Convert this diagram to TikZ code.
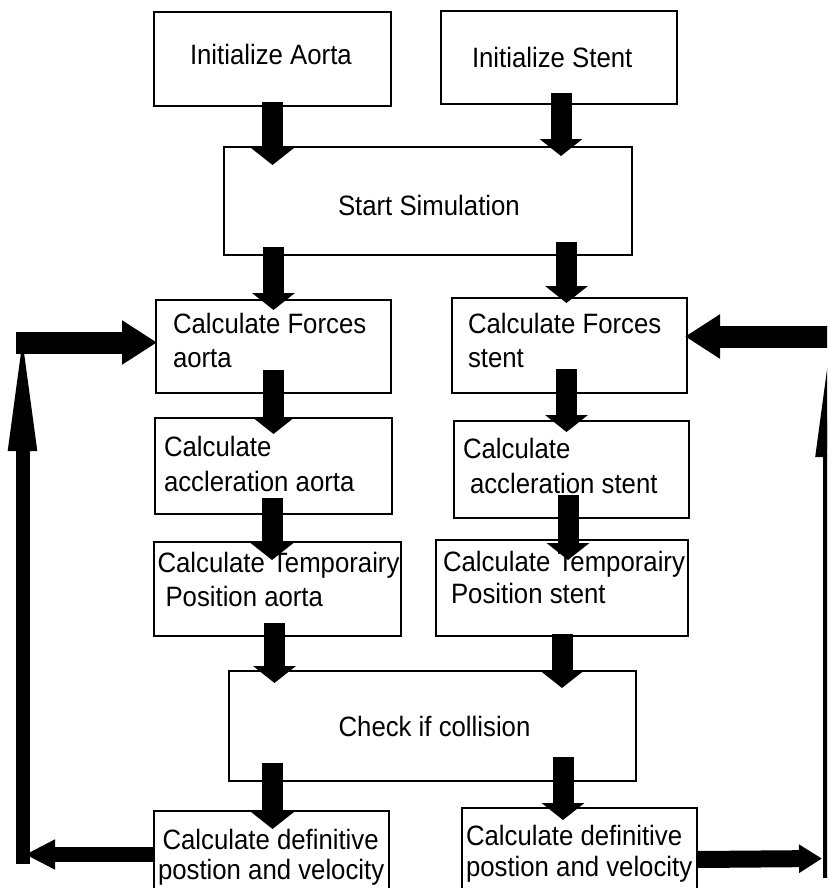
\documentclass[tikz,border=0pt]{standalone}
\usepackage{fontspec}
\setmainfont[FakeStretch=0.92]{Liberation Sans}
\usetikzlibrary{arrows.meta,calc}
\tikzset{
  box/.style={draw=black, line width=2.8pt, fill=white, rectangle, inner sep=0pt, outer sep=0pt},
  lbl/.style={anchor=base west, inner sep=0pt, outer sep=0pt, font=\fontsize{28}{34}\selectfont},
  flow/.style={line width=21pt, -{Triangle[length=17pt,width=42pt]}},
  loopa/.style={line width=15pt, -{Triangle[length=30pt,width=28pt]}},
  loopv/.style={line width=14pt, -{Triangle[length=131pt,width=25pt]}},
  looph/.style={line width=22pt, -{Triangle[length=35pt,width=42pt]}},
  loopr/.style={line width=17pt, -{Triangle[length=23pt,width=27pt]}},
}
\begin{document}
\begin{tikzpicture}[x=1pt,y=-1pt]
\useasboundingbox (0,0) rectangle (827,888);
\clip (0,0) rectangle (827,888);
\fill[white] (0,0) rectangle (827,888);
% boxes
\node[box, minimum width=237pt, minimum height=94pt]  (b1)  at (272.5,59)   {};
\node[box, minimum width=236pt, minimum height=93pt]  (b2)  at (559,57.5)   {};
\node[box, minimum width=408pt, minimum height=108pt] (b3)  at (428,201)    {};
\node[box, minimum width=235pt, minimum height=93pt]  (b4)  at (273.5,346.5){};
\node[box, minimum width=235pt, minimum height=95pt]  (b5)  at (569.5,345.5){};
\node[box, minimum width=237pt, minimum height=96pt]  (b6)  at (273.5,466)  {};
\node[box, minimum width=235pt, minimum height=97pt]  (b7)  at (571.5,469.5){};
\node[box, minimum width=247pt, minimum height=94pt]  (b8)  at (277.5,589)  {};
\node[box, minimum width=252pt, minimum height=96pt]  (b9)  at (562,588)    {};
\node[box, minimum width=407pt, minimum height=110pt] (b10) at (432.5,726)  {};
\node[box, minimum width=235pt, minimum height=94pt]  (b11) at (271.5,858)  {};
\node[box, minimum width=235pt, minimum height=94pt]  (b12) at (579.5,855)  {};
% texts
\node[lbl] (t1)   at (190,65)    {Initialize Aorta};
\node[lbl] (t2)   at (472,68)    {Initialize Stent};
\node[lbl] (t3)   at (338,215)   {Start Simulation};
\node[lbl] (t4a)  at (173,333)   {Calculate Forces};
\node[lbl] (t4b)  at (173,367)   {aorta};
\node[lbl] (t5a)  at (468,333)   {Calculate Forces};
\node[lbl] (t5b)  at (468,367)   {stent};
\node[lbl] (t6a)  at (164,456)   {Calculate};
\node[lbl] (t6b)  at (164,491)   {accleration aorta};
\node[lbl] (t7a)  at (463,458)   {Calculate};
\node[lbl] (t7b)  at (470,493)   {accleration stent};
\node[lbl] (t8a)  at (157.5,572) {Calculate Temporairy};
\node[lbl] (t8b)  at (165.5,606) {Position aorta};
\node[lbl] (t9a)  at (443,571)   {Calculate Temporairy};
\node[lbl] (t9b)  at (451,603)   {Position stent};
\node[lbl] (t10)  at (338.6,736) {Check if collision};
\node[lbl] (t11a) at (162.5,849) {Calculate definitive};
\node[lbl] (t11b) at (158,879)   {postion and velocity};
\node[lbl] (t12a) at (466,845)   {Calculate definitive};
\node[lbl] (t12b) at (466,876)   {postion and velocity};
% flow arrows
\draw[flow] ($(b1.south)+(0,-4)$) -- ($(b1.south |- b3.north)+(0,18)$);
\draw[flow] ($(b2.south)+(2,-11)$) -- ($(b2.south |- b3.north)+(2,9)$);
\draw[flow] ($(b4.north |- b3.south)+(0,-8)$) -- ($(b4.north)+(0,10)$);
\draw[flow] ($(b5.north |- b3.south)+(-3,-13)$) -- ($(b5.north)+(-3,5)$);
\draw[flow] ($(b4.south)+(0,-23)$) -- ($(b4.south |- b6.north)+(0,16)$);
\draw[flow] ($(b5.south)+(-3,-24)$) -- ($(b5.south |- b7.north)+(-3,11)$);
\draw[flow] ($(b6.south)+(-1.5,-16)$) -- ($(b6.south |- b8.north)+(-1.5,18)$);
\draw[flow] ($(b7.south)+(-3.5,-23)$) -- ($(b7.south |- b9.north)+(-3.5,20)$);
\draw[flow] ($(b8.south)+(-3,-13)$) -- ($(b8.south |- b10.north)+(-3,12)$);
\draw[flow] ($(b9.south)+(0,-2)$) -- ($(b9.south |- b10.north)+(0,17)$);
\draw[flow] ($(b11.north |- b10.south)+(1,-18)$) -- ($(b11.north)+(1,18)$);
\draw[flow] ($(b12.north |- b10.south)+(-16.5,-24)$) -- ($(b12.north)+(-16.5,12)$);
% loop-back arrows
\coordinate (L1) at (25,854.5);
\coordinate (L2) at (22.5,864);
\coordinate (L3) at (22.5,320);
\coordinate (L4) at (16,342.5);
\coordinate (R1) at (845,336.5);
\coordinate (R2) at (830,878);
\coordinate (R3) at (830,326);
\coordinate (R4) at (822,858.5);
\draw[loopa] ($(b11.west)+(0,-3.5)$) -- (L1);
\draw[loopv] (L2) -- (L3);
\draw[looph] (L4) -- ($(b4.west)+(1,-4)$);
\draw[looph] (R1) -- ($(b5.east)+(-2,-9)$);
\draw[loopv] (R2) -- (R3);
\draw[loopr] ($(b12.east)+(0,4.5)$) -- (R4);
\end{tikzpicture}
\end{document}
